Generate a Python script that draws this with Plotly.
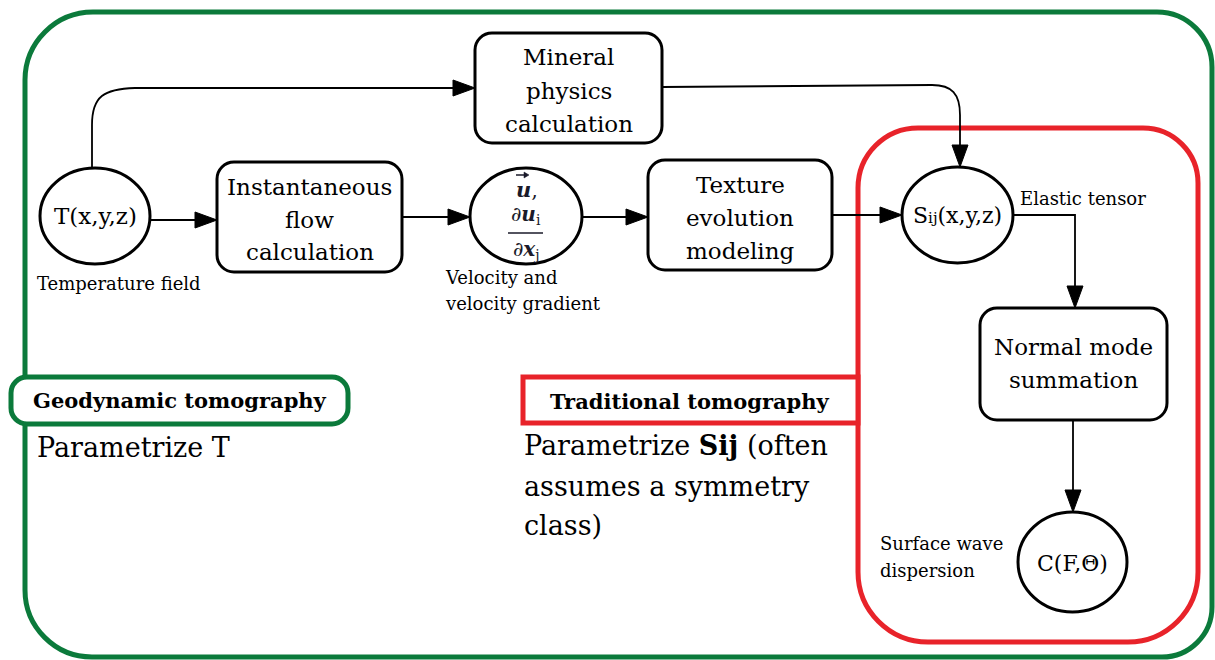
import plotly.graph_objects as go

W, H = 1215, 660
FONT = "DejaVu Serif"
GREEN = "#0b7a3b"
RED = "#e8232a"

# ---- diagram content (text) ----
box_labels = {
    "flow": ["Instantaneous", "flow", "calculation"],
    "mineral": ["Mineral", "physics", "calculation"],
    "texture": ["Texture", "evolution", "modeling"],
    "normal": ["Normal mode", "summation"],
}
ellipse_labels = {
    "T": "T(x,y,z)",
    "S": "S<span style='font-size:15px'>ij</span>(x,y,z)",
    "C": "C(F,Θ)",
}
side_notes = {
    "temp": ["Temperature field"],
    "vel": ["Velocity and", "velocity gradient"],
    "elastic": ["Elastic tensor"],
    "surf": ["Surface wave", "dispersion"],
}
group_titles = ["Geodynamic tomography", "Traditional tomography"]
group_texts = [["Parametrize T"],
               ["Parametrize <b>Sij</b> (often", "assumes a symmetry", "class)"]]

# ---- layout geometry ----
boxes = {
    "flow": (217, 162, 402, 272),
    "mineral": (475, 33, 662, 143),
    "texture": (648, 160, 832, 270),
    "normal": (980, 308, 1167, 420),
}
box_line_y = {
    "flow": [187, 220, 252],
    "mineral": [57, 91, 124],
    "texture": [185, 218, 251],
    "normal": [347, 380],
}
ellipses = {
    "T": (40, 168, 150, 264),
    "V": (470, 168, 582, 264),
    "S": (902, 167, 1013, 263),
    "C": (1018, 512, 1127, 612),
}

K = 0.5523


def rrect(x0, y0, x1, y1, r):
    if not isinstance(r, (list, tuple)):
        r = (r, r, r, r)
    tl, tr, br, bl = r
    p = f"M {x0+tl},{y0} L {x1-tr},{y0} "
    p += f"C {x1-tr+K*tr},{y0} {x1},{y0+tr-K*tr} {x1},{y0+tr} "
    p += f"L {x1},{y1-br} "
    p += f"C {x1},{y1-br+K*br} {x1-br+K*br},{y1} {x1-br},{y1} "
    p += f"L {x0+bl},{y1} "
    p += f"C {x0+bl-K*bl},{y1} {x0},{y1-bl+K*bl} {x0},{y1-bl} "
    p += f"L {x0},{y0+tl} "
    p += f"C {x0},{y0+tl-K*tl} {x0+tl-K*tl},{y0} {x0+tl},{y0} Z"
    return p


def arrowhead(tx, ty, direction, L=22, w=8):
    if direction == "right":
        pts = [(tx, ty), (tx - L, ty - w), (tx - L, ty + w)]
    elif direction == "down":
        pts = [(tx, ty), (tx - w, ty - L), (tx + w, ty - L)]
    return "M " + " L ".join(f"{x},{y}" for x, y in pts) + " Z"


shapes = []
# outer green frame
shapes.append(dict(type="path", path=rrect(25, 12, 1212, 657, (68, 55, 50, 67)),
                   line=dict(color=GREEN, width=5), fillcolor="rgba(0,0,0,0)"))
# red frame
shapes.append(dict(type="path", path=rrect(858, 128, 1198, 642, (60, 55, 70, 70)),
                   line=dict(color=RED, width=5), fillcolor="rgba(0,0,0,0)"))
# label boxes
shapes.append(dict(type="path", path=rrect(11, 377, 348, 424, 16),
                   line=dict(color=GREEN, width=5), fillcolor="white"))
shapes.append(dict(type="rect", x0=523, y0=377, x1=858, y1=423,
                   line=dict(color=RED, width=5), fillcolor="white"))

# node boxes
for k, (x0, y0, x1, y1) in boxes.items():
    shapes.append(dict(type="path", path=rrect(x0, y0, x1, y1, 17),
                       line=dict(color="black", width=3), fillcolor="white"))
# ellipses
for k, (x0, y0, x1, y1) in ellipses.items():
    shapes.append(dict(type="circle", x0=x0, y0=y0, x1=x1, y1=y1,
                       line=dict(color="black", width=3), fillcolor="white"))

# connectors
conn = [
    ("M 92,168 L 92,125 C 92,96 104,89 135,88 L 455,88", (475, 88, "right")),
    ("M 662,87 L 932,85 C 952,85 960,94 960,115 L 960,146", (960, 167, "down")),
    ("M 150,220 L 197,220", (217, 220, "right")),
    ("M 402,217 L 450,217", (470, 217, "right")),
    ("M 582,217 L 628,217", (648, 217, "right")),
    ("M 832,215 L 882,215", (902, 215, "right")),
    ("M 1013,215 L 1075,215 L 1075,288", (1075, 308, "down")),
    ("M 1073,420 L 1073,492", (1073, 512, "down")),
]
for p, (tx, ty, d) in conn:
    shapes.append(dict(type="path", path=p, line=dict(color="black", width=1.8)))
    shapes.append(dict(type="path", path=arrowhead(tx, ty, d),
                       line=dict(color="black", width=1), fillcolor="black"))
# fraction bar and vector arrow in velocity node
shapes.append(dict(type="line", x0=508, x1=543, y0=233, y1=233,
                   line=dict(color="#1a1a2a", width=1.5)))
shapes.append(dict(type="path", path="M 516,175 L 526,175",
                   line=dict(color="#1a1a2a", width=1.5)))
shapes.append(dict(type="path", path=arrowhead(529, 175, "right", L=5, w=3),
                   line=dict(color="#1a1a2a", width=0.5), fillcolor="#1a1a2a"))

ann = []


def text(x, y, s, size, anchor="center", bold=False, color="black"):
    ann.append(dict(x=x, y=y, text=f"<b>{s}</b>" if bold else s, showarrow=False,
                    xanchor=anchor, yanchor="middle",
                    font=dict(family=FONT, size=size, color=color)))


for k, lines in box_labels.items():
    x0, y0, x1, y1 = boxes[k]
    for s, y in zip(lines, box_line_y[k]):
        text((x0 + x1) / 2, y, s, 23)

text(95, 216, ellipse_labels["T"], 23)
text(957, 215, ellipse_labels["S"], 22)
text(1072, 563, ellipse_labels["C"], 22)

# velocity node math
text(527, 189, "<b><i>u</i></b>,", 21, color="#1a1a2a")
text(526, 215, "∂<b><i>u</i></b><sub>i</sub>", 20, color="#1a1a2a")
text(526, 250, "∂<b><i>x</i></b><sub>j</sub>", 20, color="#1a1a2a")

for s, y in zip(side_notes["temp"], [283]):
    text(35, y, s, 18, anchor="left")
for s, y in zip(side_notes["vel"], [277, 303]):
    text(443, y, s, 18, anchor="left")
for s, y in zip(side_notes["elastic"], [198]):
    text(1018, y, s, 18, anchor="left")
for s, y in zip(side_notes["surf"], [543, 570]):
    text(878, y, s, 18, anchor="left")

text(180, 400, group_titles[0], 21, bold=True)
text(690, 401, group_titles[1], 21, bold=True)
for s, y in zip(group_texts[0], [447]):
    text(35, y, s, 27, anchor="left")
for s, y in zip(group_texts[1], [445, 486, 525]):
    text(522, y, s, 27, anchor="left")

fig = go.Figure()
fig.update_layout(
    width=W, height=H, margin=dict(l=0, r=0, t=0, b=0),
    paper_bgcolor="white", plot_bgcolor="white",
    xaxis=dict(range=[0, W], visible=False, fixedrange=True),
    yaxis=dict(range=[H, 0], visible=False, fixedrange=True),
    shapes=shapes, annotations=ann, showlegend=False,
)
fig.write_html("out.html", config={"displayModeBar": False},
               post_script="document.body.style.margin='0';document.body.style.overflow='hidden';")
